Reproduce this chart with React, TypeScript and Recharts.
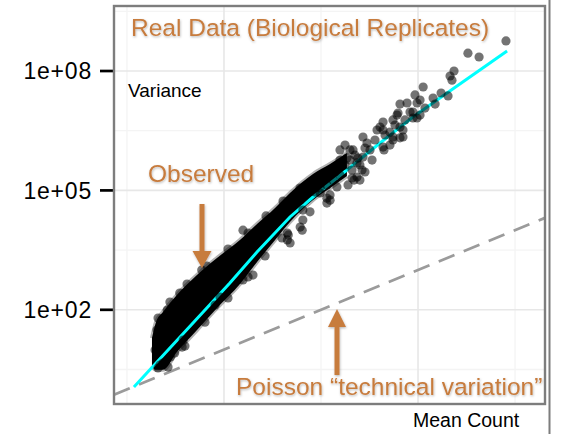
import React from 'react';
import { ComposedChart, XAxis, YAxis, CartesianGrid, Area, Line, Scatter } from 'recharts';

// Dense core of the gene cloud: lower/upper variance envelope at each mean count
const bandMean = [1.81, 1.99, 2.35, 3.27, 5.27, 8.47, 14.6, 21.9, 33.6, 47.9, 82.8, 124, 185];
const bandLow = [3.9, 3.1, 3.1, 8.7, 31, 111, 445, 1590, 5680, 16100, 57400, 115000, 230000];
const bandHigh = [19.5, 49, 88, 235, 748, 2000, 5680, 14300, 36100, 86100, 258000, 460000, 870000];

// Individual genes outside the dense core
const geneMean = [
  8070, 3270, 4260, 2350, 2140, 2240, 1130, 1730, 2040, 1430, 931, 771, 652, 1050, 1500, 1180,
  622, 887, 1050, 887, 436, 552, 652, 436, 552, 700, 977, 608, 977, 406, 514, 700, 271, 378,
  436, 552, 298, 214, 271, 185, 235, 284, 235, 252, 146, 124, 98, 115, 146, 83, 72, 98, 115,
  124, 61, 65, 77, 65, 61, 45, 48, 124, 115, 64, 46, 45, 17.7, 15.7, 19.9, 15.7, 5.9, 9.1, 8.1,
  3.8, 3.7, 3.1, 2.8, 2.19, 2.35, 2.09, 3.5, 2.6, 2.04, 1.95, 219, 446, 652,
  133, 157, 177, 199, 224, 157, 320, 360, 457, 336, 579, 734, 827, 190, 209, 98, 87, 110, 139,
  252, 284, 514,
  2.09, 2.77, 4.16, 6.68, 11.0, 17.7, 27.1, 40.6, 60.8,
  2.65, 3.96, 6.37, 11.0, 26.5, 39.6,
  199, 240, 177, 265, 209, 157,
];
const geneVar = [
  5.7e8, 2.8e8, 2.25e8, 1.0e8, 7.5e7, 5.9e7, 3.96e7, 2.8e7, 2.36e7, 2.1e7, 2.5e7, 1.57e7, 1.48e7,
  1.87e7, 1.48e7, 1.17e7, 8.8e6, 9.3e6, 7.8e6, 6.6e6, 5.2e6, 5.9e6, 3.9e6, 3.3e6, 2.2e6, 2.2e6,
  1.57e7, 7.8e6, 6.6e6, 3.9e6, 2.9e6, 3.3e6, 2.2e6, 3.3e6, 1.23e6, 1.85e6, 1.55e6, 1.04e6, 6.9e5,
  6.5e5, 4.9e5, 2.9e5, 2.17e5, 1.82e5, 3.9e5, 2.9e5, 2.17e5, 1.37e5, 1.22e5, 1.37e5, 1.02e5,
  8.6e4, 6.4e4, 5.7e4, 5.7e4, 3.2e4, 2.9e4, 1.8e4, 1.2e4, 8.5e3, 4.8e3, 7.7e4, 4.8e4, 1.0e4,
  7.6e3, 5.7e3, 667, 561, 748, 1.0e4, 1000, 210, 132, 17.4, 11.6, 8.2, 6.5, 4.1, 4.6, 3.45, 264,
  99, 31, 9.8, 1.82e5, 1.04e6, 2.1e6,
  1.82e5, 2.44e5, 4.35e5, 5.8e5, 7.7e5, 5.8e5, 1.04e6, 1.85e6, 2.47e6, 5.8e5, 4.4e6, 5.9e6, 9.3e6,
  1.37e5, 2.05e5, 1.15e5, 9.1e4, 2.05e5, 2.9e5, 4.35e5, 1.16e6, 1.38e6,
  62, 157, 445, 1260, 3370, 8500, 22800, 54200, 1.15e5,
  3.66, 12.3, 49, 198, 2250, 6370,
  1.04e6, 6.5e5, 1.38e6, 3.26e5, 3.26e5, 1.04e6,
];

// Fitted mean-variance trend
const fitMean = [1.18, 11.5, 21.9, 47.9, 82.8, 185, 406, 887, 1990, 8280];
const fitVar = [1.15, 471, 2830, 21500, 68200, 326000, 1.55e6, 6.98e6, 2.8e7, 3.18e8];

// Poisson expectation: variance equals the mean
const poissonMean = [0.735, 20370];
const poissonVar = [0.735, 20370];

const yTicks = [1e2, 1e5, 1e8];
const yMajor = [1e2, 1e5, 1e8];
const yMinor = [3.16, 3162, 3.16e6, 3.16e9];
const xMajor = [10, 1000];
const xMinor = [1, 100, 10000];

const xDomain = [0.735, 20370];
const yDomain = [0.43, 4.3e9];

const bandRows = bandMean.map((m, i) => ({ m, band: [bandLow[i], bandHigh[i]] }));
const geneRows = geneMean.map((m, i) => ({ m, v: geneVar[i] }));
const fitRows = fitMean.map((m, i) => ({ m, v: fitVar[i] }));
const poissonRows = poissonMean.map((m, i) => ({ m, v: poissonVar[i] }));

const sans = "'Liberation Sans', Arial, Helvetica, sans-serif";
const orange = '#c77b3d';

const expLabel = (v: number) => {
  const e = Math.round(Math.log10(v));
  return `1e+${String(e).padStart(2, '0')}`;
};

const GeneDot = (props: any) => {
  const { cx, cy } = props;
  if (cx == null || cy == null) return <g />;
  return <circle cx={cx} cy={cy} r={4.6} fill="rgba(0,0,0,0.55)" />;
};

export default function App() {
  return (
    <div style={{ position: 'absolute', left: 0, top: 0, width: 564, height: 434, background: '#fff' }}>
      <ComposedChart width={564} height={434} margin={{ top: 6, right: 19, bottom: 30, left: 0 }}>
        <CartesianGrid horizontalValues={yMinor} verticalValues={xMinor} stroke="#f4f4f4" strokeWidth={1.3} />
        <CartesianGrid horizontalValues={yMajor} verticalValues={xMajor} stroke="#e7e7e7" strokeWidth={1.6} />
        <XAxis type="number" dataKey="m" scale="log" domain={xDomain} allowDataOverflow hide />
        <YAxis
          type="number"
          scale="log"
          domain={yDomain}
          allowDataOverflow
          ticks={yTicks}
          interval={0}
          width={114}
          tickSize={14}
          tickMargin={8}
          axisLine={false}
          tickLine={{ stroke: '#000', strokeWidth: 2.7 }}
          tick={{ fill: '#000', fontSize: 23, fontFamily: sans, letterSpacing: 0.8 }}
          tickFormatter={expLabel}
        />
        <Line
          data={poissonRows}
          dataKey="v"
          type="linear"
          stroke="#9b9b9b"
          strokeWidth={2.8}
          strokeDasharray="17 10"
          dot={false}
          activeDot={false}
          isAnimationActive={false}
        />
        <Area
          data={bandRows}
          dataKey="band"
          type="monotone"
          fill="#000"
          fillOpacity={1}
          stroke="rgba(0,0,0,0.3)"
          strokeWidth={4}
          isAnimationActive={false}
        />
        <Scatter data={geneRows} dataKey="v" shape={GeneDot} isAnimationActive={false} />
        <Line
          data={fitRows}
          dataKey="v"
          type="linear"
          stroke="#00ffff"
          strokeWidth={3}
          dot={false}
          activeDot={false}
          isAnimationActive={false}
        />
      </ComposedChart>
      <svg
        width={564}
        height={434}
        style={{ position: 'absolute', left: 0, top: 0, pointerEvents: 'none' }}
      >
        <defs>
          <filter id="soft" x="-10%" y="-40%" width="120%" height="180%">
            <feDropShadow dx="0.6" dy="1.2" stdDeviation="1.3" floodColor="#000" floodOpacity="0.28" />
          </filter>
        </defs>
        <rect x={114} y={6} width={431} height={398} fill="none" stroke="#7d7d7d" strokeWidth={2.4} />
        <line x1={549.5} y1={0} x2={549.5} y2={434} stroke="#7d7d7d" strokeWidth={2} />
        <g fill={orange} fontFamily={sans} fontSize={24.5} filter="url(#soft)">
          <text x={131} y={36}>Real Data (Biological Replicates)</text>
          <text x={148} y={182}>Observed</text>
          <text x={236} y={395}>Poisson “technical variation”</text>
          <rect x={199.5} y={204} width={5} height={48} />
          <polygon points="192.5,251 211.5,251 202,268" />
          <polygon points="328,327 346,327 337,309" />
          <rect x={334.5} y={326} width={5} height={49} />
        </g>
        <text x={128} y={97} fontFamily={sans} fontSize={19} fill="#000">Variance</text>
        <text x={413} y={427} fontFamily={sans} fontSize={19.5} fill="#000">Mean Count</text>
      </svg>
    </div>
  );
}
